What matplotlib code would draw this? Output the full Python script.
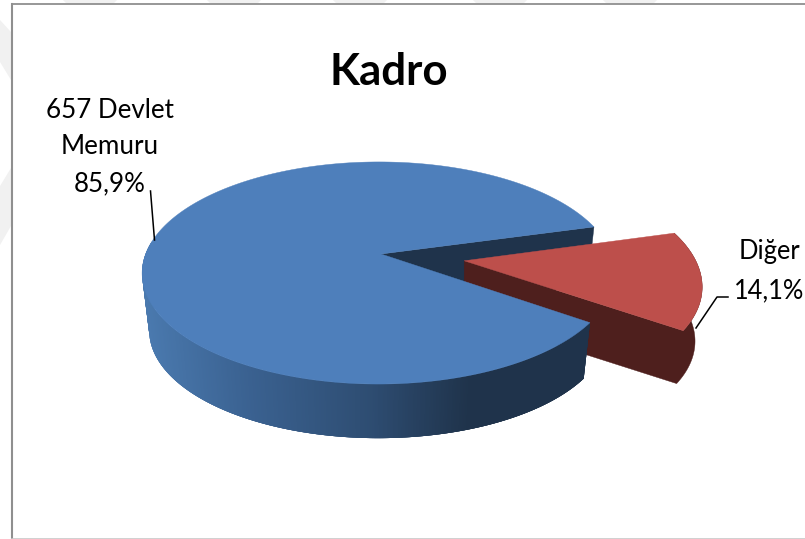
import numpy as np
import matplotlib
matplotlib.use("Agg")
import matplotlib.pyplot as plt
from matplotlib.collections import PolyCollection
from matplotlib.colors import LinearSegmentedColormap
from matplotlib.patches import Polygon, Rectangle

# Chart content
title = "Kadro"
categories = ["657 Devlet\nMemuru", "Diğer"]
shares = [85.9, 14.1]
percent_labels = ["85,9%", "14,1%"]

# Pie geometry in pixel space
APEX = (381.0, 254.0)
RX, RY = 233.0, 107.8
TILT_Y, TILT_X = 0.171, 0.01
DEPTH, BASE_SCALE = 58.0, 0.97
RED_DEPTH = 55.0
EXPLODE = 0.36
RED_MID_DEG = -10.0

TOP_BLUE, TOP_RED = "#4e7fbb", "#bd4f4b"
SIDE_BLUE, SIDE_RED = "#1f334b", "#4e1f1d"
BAND_GREY = "#f1f1f1"

plt.rcParams["font.family"] = ["Lato", "DejaVu Sans"]


def project(theta, radius=1.0, offset=(0.0, 0.0)):
    """Perspective view of a point on the pie's top disc."""
    u = radius * np.cos(theta) + offset[0]
    v = radius * np.sin(theta) + offset[1]
    w = 1 + TILT_Y * v + TILT_X * u
    return APEX[0] + RX * u / w, APEX[1] - RY * v / w


def lower(x, y, origin=APEX, depth=DEPTH):
    """Matching point on the base of an extruded slice."""
    x, y = np.asarray(x), np.asarray(y)
    return origin[0] + (x - origin[0]) * BASE_SCALE, origin[1] + (y - origin[1]) * BASE_SCALE + depth


fig = plt.figure(figsize=(8.05, 5.39), dpi=100, facecolor="white")
ax = fig.add_axes([0, 0, 1, 1])
ax.set_xlim(0, 805)
ax.set_ylim(539, 0)
ax.axis("off")

# Pale diagonal bands of the page behind the chart
for left in (63, 207, 333, 473, 603):
    ax.add_patch(Polygon([(left, 0), (left + 54, 0), (left + 50, 4), (left + 4, 4)],
                         fc=BAND_GREY, ec="none", zorder=0))
ax.add_patch(Polygon([(0, 20), (11, 32), (11, 80), (0, 62)], fc=BAND_GREY, ec="none", zorder=0))
ax.add_patch(Polygon([(0, 186), (11, 168), (11, 226), (0, 245)], fc=BAND_GREY, ec="none", zorder=0))

# Chart area frame
ax.add_patch(Rectangle((11.5, 4), 800, 534.5, fc="white", ec="none", zorder=1))
ax.plot([11.5, 11.5], [3.5, 538.5], color="#8f8f8f", lw=1.5, zorder=1.5)
ax.plot([11.5, 805], [3.8, 3.8], color="#8f8f8f", lw=1.3, zorder=1.5)
ax.plot([11.5, 805], [538.5, 538.5], color="#c8c8c8", lw=1.2, zorder=1.5)

# Slice extents come from the shares
red_span = np.deg2rad(shares[1] / sum(shares) * 360)
red_mid = np.deg2rad(RED_MID_DEG)
red_lo, red_hi = red_mid - red_span / 2, red_mid + red_span / 2
blue_t = np.linspace(red_hi, red_lo + 2 * np.pi, 900)
red_t = np.linspace(red_lo, red_hi, 120)
offset = (EXPLODE * np.cos(red_mid), EXPLODE * np.sin(red_mid))

# Inner cut face of the large slice, seen through the gap
hx, hy = project(np.array([red_hi]))
bx, by = lower(hx, hy)
ax_b, ay_b = lower(APEX[0], APEX[1])
ax.add_patch(Polygon([APEX, (hx[0], hy[0]), (bx[0], by[0]), (ax_b, ay_b)],
                     fc=SIDE_BLUE, ec=SIDE_BLUE, lw=0.3, zorder=2))

# Detached slice: cut face and rim as one dark shape, then the top
ox, oy = project(0.0, 0.0, offset)
rx_pts, ry_pts = project(red_t, 1.0, offset)
obx, oby = lower(ox, oy, (ox, oy), RED_DEPTH)
rbx, rby = lower(rx_pts, ry_pts, (ox, oy), RED_DEPTH)
side = np.r_[[(ox, oy)], np.c_[rx_pts, ry_pts], np.c_[rbx, rby][::-1], [(obx, oby)]]
ax.add_patch(Polygon(side, fc=SIDE_RED, ec=SIDE_RED, lw=0.3, zorder=3))
ax.add_patch(Polygon(np.r_[[(ox, oy)], np.c_[rx_pts, ry_pts]], fc=TOP_RED, ec=TOP_RED, lw=0.3, zorder=4))

# Large slice: shaded rim painted left to right in overlapping strips, then top
px, py = project(blue_t)
qx, qy = lower(px, py)
shade = LinearSegmentedColormap.from_list(
    "rim", [(0.0, "#4a79ae"), (0.32, "#3a6190"), (0.69, "#2e4d72"), (1.0, SIDE_BLUE)])
strips, strip_colors = [], []
for i in range(len(blue_t) - 1):
    if np.sin(blue_t[i]) > 0.12:
        continue
    j = min(i + 4, len(blue_t) - 1)
    strips.append(np.r_[np.c_[px[i:j + 1], py[i:j + 1]], np.c_[qx[i:j + 1], qy[i:j + 1]][::-1]])
    strip_colors.append(shade(np.clip((px[i] - 145) / 325, 0, 1)))
ax.add_collection(PolyCollection(strips, facecolors=strip_colors, edgecolors="none", zorder=5))
ax.add_patch(Polygon(np.r_[[APEX], np.c_[px, py]], fc=TOP_BLUE, ec=TOP_BLUE, lw=0.3, zorder=6))

# Leader lines
ax.plot([150.5, 154.5], [191, 240], color="black", lw=1.1, zorder=7)
ax.plot([728, 717, 696], [297, 297, 328], color="black", lw=1.1, zorder=7)

# Text
ax.text(388.5, 72, title, ha="center", va="center", fontsize=31.6, fontweight="bold", color="black", zorder=8)
ax.text(110, 147, categories[0] + "\n" + percent_labels[0], ha="center", va="center",
        fontsize=18.7, linespacing=1.58, color="black", zorder=8)
ax.text(769.5, 271, categories[1] + "\n" + percent_labels[1], ha="center", va="center",
        fontsize=18.4, linespacing=1.7, color="black", zorder=8)

fig.savefig("out.png", dpi=100, facecolor="white")
